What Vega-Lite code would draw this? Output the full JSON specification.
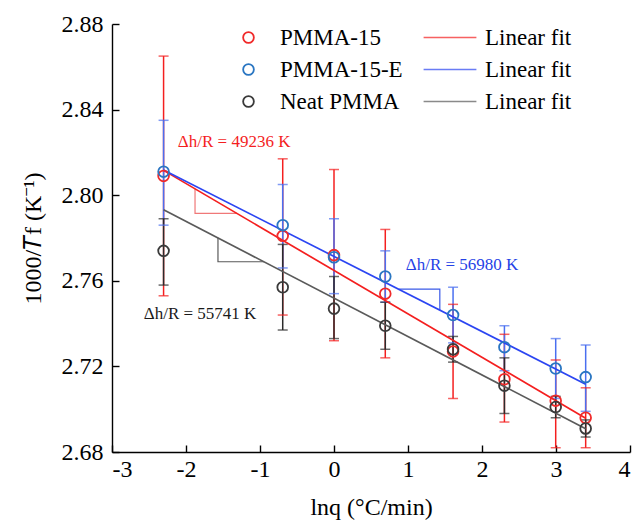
{
  "$schema": "https://vega.github.io/schema/vega-lite/v6.json",
  "autosize": {"type": "none"},
  "padding": {"left": 112, "top": 24, "right": 10, "bottom": 74},
  "width": 518,
  "height": 428,
  "background": "#ffffff",
  "config": {
    "view": {"stroke": null},
    "font": "Liberation Serif, Times New Roman, serif",
    "axis": {
      "grid": false,
      "domainColor": "#000000",
      "domainWidth": 1.4,
      "tickColor": "#000000",
      "tickWidth": 1.4,
      "tickSize": -7,
      "labelFont": "Liberation Serif, Times New Roman, serif",
      "labelFontSize": 24,
      "labelColor": "#000000",
      "titleFont": "Liberation Serif, Times New Roman, serif",
      "titleFontSize": 24,
      "titleFontWeight": "normal",
      "titleColor": "#000000"
    },
    "legend": {
      "labelFont": "Liberation Serif, Times New Roman, serif",
      "labelFontSize": 23,
      "labelColor": "#000000",
      "padding": 0,
      "rowPadding": 8
    }
  },
  "datasets": {
    "points": [
      {"series": "PMMA-15", "lnq": -2.303, "y": 2.809, "lo": 2.753, "hi": 2.865},
      {"series": "PMMA-15", "lnq": -0.693, "y": 2.781, "lo": 2.744, "hi": 2.817},
      {"series": "PMMA-15", "lnq": 0.0, "y": 2.772, "lo": 2.732, "hi": 2.812},
      {"series": "PMMA-15", "lnq": 0.693, "y": 2.754, "lo": 2.724, "hi": 2.784},
      {"series": "PMMA-15", "lnq": 1.609, "y": 2.727, "lo": 2.705, "hi": 2.749},
      {"series": "PMMA-15", "lnq": 2.303, "y": 2.714, "lo": 2.694, "hi": 2.735},
      {"series": "PMMA-15", "lnq": 2.996, "y": 2.704, "lo": 2.682, "hi": 2.723},
      {"series": "PMMA-15", "lnq": 3.401, "y": 2.696, "lo": 2.682, "hi": 2.710},
      {"series": "PMMA-15-E", "lnq": -2.303, "y": 2.811, "lo": 2.786, "hi": 2.835},
      {"series": "PMMA-15-E", "lnq": -0.693, "y": 2.786, "lo": 2.766, "hi": 2.805},
      {"series": "PMMA-15-E", "lnq": 0.0, "y": 2.771, "lo": 2.754, "hi": 2.789},
      {"series": "PMMA-15-E", "lnq": 0.693, "y": 2.762, "lo": 2.750, "hi": 2.774},
      {"series": "PMMA-15-E", "lnq": 1.609, "y": 2.744, "lo": 2.731, "hi": 2.757},
      {"series": "PMMA-15-E", "lnq": 2.303, "y": 2.729, "lo": 2.718, "hi": 2.739},
      {"series": "PMMA-15-E", "lnq": 2.996, "y": 2.719, "lo": 2.705, "hi": 2.733},
      {"series": "PMMA-15-E", "lnq": 3.401, "y": 2.715, "lo": 2.699, "hi": 2.730},
      {"series": "Neat PMMA", "lnq": -2.303, "y": 2.774, "lo": 2.758, "hi": 2.789},
      {"series": "Neat PMMA", "lnq": -0.693, "y": 2.757, "lo": 2.737, "hi": 2.777},
      {"series": "Neat PMMA", "lnq": 0.0, "y": 2.747, "lo": 2.733, "hi": 2.762},
      {"series": "Neat PMMA", "lnq": 0.693, "y": 2.739, "lo": 2.728, "hi": 2.750},
      {"series": "Neat PMMA", "lnq": 1.609, "y": 2.728, "lo": 2.722, "hi": 2.734},
      {"series": "Neat PMMA", "lnq": 2.303, "y": 2.711, "lo": 2.698, "hi": 2.724},
      {"series": "Neat PMMA", "lnq": 2.996, "y": 2.701, "lo": 2.696, "hi": 2.706},
      {"series": "Neat PMMA", "lnq": 3.401, "y": 2.691, "lo": 2.687, "hi": 2.695}
    ],
    "fits": [
      {"fit": "PMMA-15 fit", "lnq": -2.303, "y": 2.8116},
      {"fit": "PMMA-15 fit", "lnq": 3.401, "y": 2.6958},
      {"fit": "PMMA-15-E fit", "lnq": -2.303, "y": 2.8118},
      {"fit": "PMMA-15-E fit", "lnq": 3.401, "y": 2.7117},
      {"fit": "Neat PMMA fit", "lnq": -2.303, "y": 2.7932},
      {"fit": "Neat PMMA fit", "lnq": 3.401, "y": 2.6909}
    ],
    "slopes": [
      {"tri": "PMMA-15 slope", "step": 1, "lnq": -1.878, "y": 2.8030},
      {"tri": "PMMA-15 slope", "step": 2, "lnq": -1.878, "y": 2.7915},
      {"tri": "PMMA-15 slope", "step": 3, "lnq": -1.31, "y": 2.7915},
      {"tri": "Neat PMMA slope", "step": 1, "lnq": -1.568, "y": 2.7801},
      {"tri": "Neat PMMA slope", "step": 2, "lnq": -1.568, "y": 2.7689},
      {"tri": "Neat PMMA slope", "step": 3, "lnq": -0.946, "y": 2.7689},
      {"tri": "PMMA-15-E slope", "step": 1, "lnq": 0.88, "y": 2.7561},
      {"tri": "PMMA-15-E slope", "step": 2, "lnq": 1.43, "y": 2.7561},
      {"tri": "PMMA-15-E slope", "step": 3, "lnq": 1.43, "y": 2.7464}
    ],
    "notes": [
      {"note": "PMMA-15 note", "lnq": -1.35, "y": 2.8249, "text": "Δh/R = 49236 K"},
      {"note": "PMMA-15-E note", "lnq": 1.73, "y": 2.7674, "text": "Δh/R = 56980 K"},
      {"note": "Neat PMMA note", "lnq": -1.81, "y": 2.7445, "text": "Δh/R = 55741 K"}
    ]
  },
  "encoding": {
    "x": {
      "field": "lnq",
      "type": "quantitative",
      "scale": {"domain": [-3, 4], "nice": false, "zero": false},
      "axis": {
        "title": "lnq (°C/min)",
        "values": [-3, -2, -1, 0, 1, 2, 3, 4],
        "labelExpr": "datum.value + ''",
        "labelPadding": 12,
        "titlePadding": 14
      }
    },
    "y": {
      "field": "y",
      "type": "quantitative",
      "scale": {"domain": [2.68, 2.88], "nice": false, "zero": false},
      "axis": {
        "title": "1000/𝑇f (K⁻¹)",
        "values": [2.68, 2.72, 2.76, 2.80, 2.84, 2.88],
        "format": ".2f",
        "labelPadding": 16,
        "titlePadding": 16
      }
    }
  },
  "layer": [
    {
      "data": {"name": "points"},
      "mark": {"type": "rule", "strokeWidth": 1.5},
      "encoding": {
        "y": {"field": "lo", "type": "quantitative"},
        "y2": {"field": "hi"},
        "color": {"field": "series", "type": "nominal"}
      }
    },
    {
      "data": {"name": "points"},
      "mark": {"type": "tick", "orient": "horizontal", "size": 10, "thickness": 1.5},
      "encoding": {
        "y": {"field": "lo", "type": "quantitative"},
        "color": {"field": "series", "type": "nominal"}
      }
    },
    {
      "data": {"name": "points"},
      "mark": {"type": "tick", "orient": "horizontal", "size": 10, "thickness": 1.5},
      "encoding": {
        "y": {"field": "hi", "type": "quantitative"},
        "color": {"field": "series", "type": "nominal"}
      }
    },
    {
      "data": {"name": "slopes"},
      "mark": {"type": "line", "strokeWidth": 1.2},
      "encoding": {
        "color": {"field": "tri", "type": "nominal"},
        "order": {"field": "step", "type": "quantitative"}
      }
    },
    {
      "data": {"name": "fits"},
      "mark": {"type": "line", "strokeWidth": 1.7},
      "encoding": {
        "color": {
          "field": "fit",
          "type": "nominal",
          "scale": {
            "domain": [
              "PMMA-15 fit", "PMMA-15-E fit", "Neat PMMA fit",
              "PMMA-15", "PMMA-15-E", "Neat PMMA",
              "PMMA-15 slope", "PMMA-15-E slope", "Neat PMMA slope",
              "PMMA-15 note", "PMMA-15-E note", "Neat PMMA note"
            ],
            "range": [
              "#f41f1f", "#2b45f2", "#5a5a5a",
              "#f41f1f", "#4a6ff0", "#2b2b2b",
              "#f07878", "#3a5ae8", "#5a5a5a",
              "#f41f1f", "#2542e6", "#1a1a1a"
            ]
          },
          "legend": {
            "title": null,
            "orient": "none",
            "legendX": 326.5,
            "legendY": 2,
            "values": ["PMMA-15 fit", "PMMA-15-E fit", "Neat PMMA fit"],
            "labelExpr": "'Linear fit'",
            "symbolType": "M-4.4,0H4.4",
            "symbolSize": 144,
            "symbolStrokeWidth": 1.7,
            "labelOffset": 23.5
          }
        }
      }
    },
    {
      "data": {"name": "notes"},
      "mark": {"type": "text", "fontSize": 17, "align": "center", "baseline": "middle"},
      "encoding": {
        "text": {"field": "text"},
        "color": {"field": "note", "type": "nominal"}
      }
    },
    {
      "data": {"name": "points"},
      "mark": {"type": "point", "shape": "circle", "filled": false, "size": 115, "strokeWidth": 1.8, "opacity": 1},
      "encoding": {
        "stroke": {
          "field": "series",
          "type": "nominal",
          "scale": {
            "domain": ["PMMA-15", "PMMA-15-E", "Neat PMMA"],
            "range": ["#f02a2a", "#2a76c2", "#3a3a3a"]
          },
          "legend": {
            "title": null,
            "orient": "none",
            "legendX": 125,
            "legendY": 2,
            "symbolType": "circle",
            "symbolSize": 115,
            "symbolStrokeWidth": 1.8,
            "labelOffset": 20
          }
        }
      }
    }
  ]
}
